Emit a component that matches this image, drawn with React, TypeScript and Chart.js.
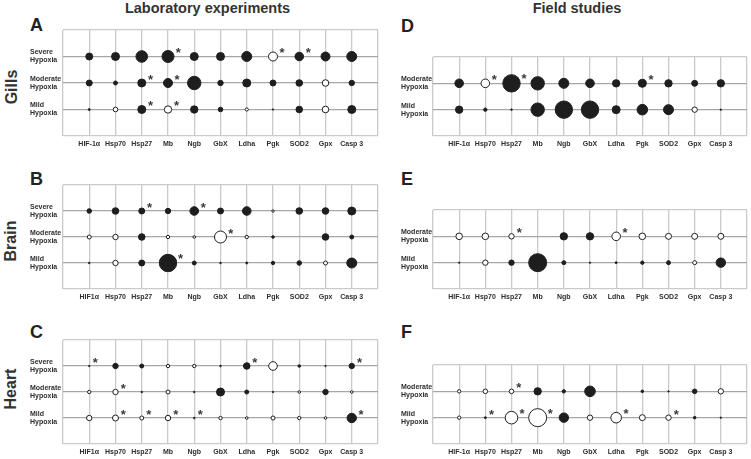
import React, { useEffect, useRef } from 'react';
import { Chart, registerables } from 'chart.js';

Chart.register(...registerables);

const FONT = '"Liberation Sans", Arial, Helvetica, sans-serif';
Chart.defaults.font.family = FONT;

// ---------- categories / tick labels ----------
const genesDash = ['HIF-1α', 'Hsp70', 'Hsp27', 'Mb', 'Ngb', 'GbX', 'Ldha', 'Pgk', 'SOD2', 'Gpx', 'Casp 3'];
const genesNoDash = ['HIF1α', 'Hsp70', 'Hsp27', 'Mb', 'Ngb', 'GbX', 'Ldha', 'Pgk', 'SOD2', 'Gpx', 'Casp 3'];
const labRows = ['Severe Hypoxia', 'Moderate Hypoxia', 'Mild Hypoxia'];
const fieldRows = ['Moderate Hypoxia', 'Mild Hypoxia'];

// ---------- series: signed effect sizes (|v| = bubble magnitude, v>0 up / filled, v<0 down / open) ----------
// A  Gills, laboratory
const gillsLabSevere = [3.5, 4, 5.8, 6, 4, 4, 5, -4.5, 4.3, 4.5, 5];
const gillsLabModerate = [3, 2, 4, 4.5, 6.7, 2.7, 4, 3, 3.3, -3.3, 2.7];
const gillsLabMild = [1, -2.3, 4, -3.7, 3.7, 2.3, -1.6, 0.7, 3.3, -3.3, 4];
const gillsLabSevereSig = ['Mb', 'Pgk', 'SOD2'];
const gillsLabModerateSig = ['Hsp27', 'Mb'];
const gillsLabMildSig = ['Hsp27', 'Mb'];

// B  Brain, laboratory
const brainLabSevere = [2.3, 3.3, 3, 2.7, 4.3, 3, 4.3, -1.2, 3.3, 3.3, 4];
const brainLabModerate = [-2, -2.7, 3.3, -1.7, -1.3, -6, -1.7, 1.3, 0, 3.3, 2];
const brainLabMild = [0.8, -2.7, 3, 8.7, 2, 0.8, 1, 1.7, 2.3, -2, 5];
const brainLabSevereSig = ['Hsp27', 'Ngb'];
const brainLabModerateSig = ['GbX'];
const brainLabMildSig = ['Mb'];

// C  Heart, laboratory
const heartLabSevere = [0.7, 2.7, 2, -1.7, -1.7, 0.8, 3.3, -4.3, 1.3, 0.7, 2.7];
const heartLabModerate = [-1.7, -2.7, 0.8, -2, 0.8, 4, 2, 0.7, -1.3, 2.7, -1.3];
const heartLabMild = [-2.7, -3, -2, -2.7, 0.8, -1.7, -1.3, -2, -1.7, -1.3, 4.7];
const heartLabSevereSig = ['HIF1α', 'Ldha', 'Casp 3'];
const heartLabModerateSig = ['Hsp70'];
const heartLabMildSig = ['Hsp70', 'Hsp27', 'Mb', 'Ngb', 'Casp 3'];

// D  Gills, field
const gillsFieldModerate = [4.3, -4.3, 8.7, 6.7, 5, 4.3, 3.7, 4, 3.7, 3, 3.7];
const gillsFieldMild = [3.7, 1.7, 0.8, 6.7, 8.7, 8.7, 4, 5.3, 5, -2.7, 0.7];
const gillsFieldModerateSig = ['Hsp70', 'Hsp27', 'Pgk'];
const gillsFieldMildSig: string[] = [];

// E  Brain, field
const brainFieldModerate = [-3.3, -3.3, -2.7, 0, 3.7, 3.7, -4.3, -3.3, -3, -3, -3];
const brainFieldMild = [0.7, -2.7, 2.7, 9, 2, 0.7, 1, 1.7, 2, -2, 4.7];
const brainFieldModerateSig = ['Hsp27', 'Ldha'];
const brainFieldMildSig: string[] = [];

// F  Heart, field
const heartFieldModerate = [-1.7, -2.3, -2.3, 3.7, 1.7, 5.3, 0, 1.3, 0.7, 2.3, -2.7];
const heartFieldMild = [-1.7, 1, -6.3, -9, 4.7, -2.7, -5.3, -3, -2.7, 1.3, 0.7];
const heartFieldModerateSig = ['Hsp27'];
const heartFieldMildSig = ['Hsp70', 'Hsp27', 'Mb', 'Ldha', 'SOD2'];

// ---------- styling ----------
const RADIUS_PER_UNIT = 1;
const INK = '#1e1e1e';
const TEXT = '#2e2e2e';
const ROW_LINE = '#a6a6a6';
const COL_LINE = '#cacaca';

type Row = { name: string; values: number[]; sig: string[] };

type PanelProps = {
  genes: string[];
  rows: Row[];
  left: number;
  top: number;
  width: number;
  height: number;
  yAxisWidth: number;
};

function Panel({ genes, rows, left, top, width, height, yAxisWidth }: PanelProps) {
  const ref = useRef<HTMLCanvasElement | null>(null);

  useEffect(() => {
    const canvas = ref.current;
    if (!canvas) return;
    const n = rows.length;
    const tickFont = { size: 7, weight: 'bold' as const, lineHeight: 1.15, family: FONT };

    const datasets = rows.map((row, i) => ({
      label: row.name,
      data: genes.map((_, j) => ({ x: j, y: n - i, r: Math.abs(row.values[j]) * RADIUS_PER_UNIT })),
      backgroundColor: row.values.map((v) => (v < 0 ? '#ffffff' : INK)),
      borderColor: INK,
      borderWidth: 1,
      hoverRadius: 0,
      hoverBorderWidth: 1,
    }));

    const sigPlugin = {
      id: 'sigStars',
      afterDatasetsDraw(chart: any) {
        const ctx = chart.ctx;
        ctx.save();
        const fs = 13;
        ctx.font = `bold ${fs}px ${FONT}`;
        ctx.fillStyle = '#3a3a3a';
        ctx.textAlign = 'center';
        ctx.textBaseline = 'alphabetic';
        rows.forEach((row, i) => {
          const meta = chart.getDatasetMeta(i);
          row.sig.forEach((g) => {
            const j = genes.indexOf(g);
            if (j < 0) return;
            const el = meta.data[j];
            const r = Math.abs(row.values[j]) * RADIUS_PER_UNIT;
            const cx = el.x + 5.5 + 0.8 * r;
            const cy = el.y - (6 + 0.15 * r);
            ctx.fillText('*', cx, cy + 0.57 * fs);
          });
        });
        ctx.restore();
      },
    };

    const chart = new Chart(canvas, {
      type: 'bubble',
      data: { datasets },
      options: {
        responsive: false,
        animation: false,
        events: [],
        layout: { autoPadding: false, padding: { left: 0, top: 2, right: 2, bottom: 0 } },
        plugins: { legend: { display: false }, tooltip: { enabled: false } },
        scales: {
          x: {
            type: 'linear',
            min: -1,
            max: genes.length,
            grid: { color: COL_LINE, lineWidth: 1.3, drawTicks: false },
            border: { display: false },
            ticks: {
              stepSize: 1,
              autoSkip: false,
              maxRotation: 0,
              minRotation: 0,
              padding: 4,
              color: TEXT,
              font: tickFont,
              callback: (v: any) => (genes[Number(v)] !== undefined ? genes[Number(v)] : ''),
            },
            afterFit: (s: any) => {
              s.height = 16;
              s.paddingLeft = 0;
              s.paddingRight = 0;
            },
          },
          y: {
            type: 'linear',
            min: 0,
            max: n + 1,
            grid: {
              color: (c: any) => (c.tick && (c.tick.value === 0 || c.tick.value === n + 1) ? COL_LINE : ROW_LINE),
              lineWidth: 1.2,
              drawTicks: false,
            },
            border: { display: false },
            ticks: {
              stepSize: 1,
              crossAlign: 'far',
              padding: 0,
              color: TEXT,
              font: tickFont,
              callback: (v: any) => {
                const idx = n - Number(v);
                if (idx < 0 || idx >= n) return '';
                return rows[idx].name.split(' ');
              },
            },
            afterFit: (s: any) => {
              s.width = yAxisWidth;
              s.paddingTop = 0;
              s.paddingBottom = 0;
            },
          },
        },
      },
      plugins: [sigPlugin],
    } as any);

    return () => chart.destroy();
  }, []);

  return (
    <canvas
      ref={ref}
      width={width}
      height={height}
      style={{ position: 'absolute', left, top, width, height }}
    />
  );
}

function Label({ text, left, top, size }: { text: string; left: number; top: number; size: number }) {
  return (
    <div
      style={{
        position: 'absolute',
        left,
        top,
        fontSize: size,
        lineHeight: `${size}px`,
        fontWeight: 'bold',
        color: '#222',
        whiteSpace: 'nowrap',
      }}
    >
      {text}
    </div>
  );
}

function CenterLabel({ text, cx, top, size }: { text: string; cx: number; top: number; size: number }) {
  return (
    <div
      style={{
        position: 'absolute',
        left: cx,
        top,
        transform: 'translateX(-50%)',
        fontSize: size,
        lineHeight: `${size}px`,
        fontWeight: 'bold',
        color: '#333',
        whiteSpace: 'nowrap',
      }}
    >
      {text}
    </div>
  );
}

function Organ({ text, cx, cy }: { text: string; cx: number; cy: number }) {
  return (
    <div
      style={{
        position: 'absolute',
        left: cx,
        top: cy,
        transform: 'translate(-50%, -50%) rotate(-90deg)',
        fontSize: 16,
        lineHeight: '16px',
        fontWeight: 'bold',
        color: '#333',
        whiteSpace: 'nowrap',
      }}
    >
      {text}
    </div>
  );
}

export default function App() {
  const A: Row[] = [
    { name: labRows[0], values: gillsLabSevere, sig: gillsLabSevereSig },
    { name: labRows[1], values: gillsLabModerate, sig: gillsLabModerateSig },
    { name: labRows[2], values: gillsLabMild, sig: gillsLabMildSig },
  ];
  const B: Row[] = [
    { name: labRows[0], values: brainLabSevere, sig: brainLabSevereSig },
    { name: labRows[1], values: brainLabModerate, sig: brainLabModerateSig },
    { name: labRows[2], values: brainLabMild, sig: brainLabMildSig },
  ];
  const C: Row[] = [
    { name: labRows[0], values: heartLabSevere, sig: heartLabSevereSig },
    { name: labRows[1], values: heartLabModerate, sig: heartLabModerateSig },
    { name: labRows[2], values: heartLabMild, sig: heartLabMildSig },
  ];
  const D: Row[] = [
    { name: fieldRows[0], values: gillsFieldModerate, sig: gillsFieldModerateSig },
    { name: fieldRows[1], values: gillsFieldMild, sig: gillsFieldMildSig },
  ];
  const E: Row[] = [
    { name: fieldRows[0], values: brainFieldModerate, sig: brainFieldModerateSig },
    { name: fieldRows[1], values: brainFieldMild, sig: brainFieldMildSig },
  ];
  const F: Row[] = [
    { name: fieldRows[0], values: heartFieldModerate, sig: heartFieldModerateSig },
    { name: fieldRows[1], values: heartFieldMild, sig: heartFieldMildSig },
  ];

  return (
    <div
      style={{
        position: 'absolute',
        left: 0,
        top: 0,
        width: 751,
        height: 459,
        background: '#fff',
        overflow: 'hidden',
        fontFamily: FONT,
      }}
    >
      <CenterLabel text="Laboratory experiments" cx={207.5} top={1} size={14.5} />
      <CenterLabel text="Field studies" cx={577} top={0.5} size={14.5} />

      <Label text="A" left={30} top={16} size={18} />
      <Label text="B" left={30} top={170} size={18} />
      <Label text="C" left={30} top={323} size={18} />
      <Label text="D" left={401} top={17} size={18} />
      <Label text="E" left={401} top={170} size={18} />
      <Label text="F" left={401} top={323} size={18} />

      <Organ text="Gills" cx={12} cy={87} />
      <Organ text="Brain" cx={11} cy={241} />
      <Organ text="Heart" cx={11} cy={389} />

      <Panel genes={genesDash} rows={A} left={30} top={28} width={350} height={124} yAxisWidth={33} />
      <Panel genes={genesNoDash} rows={B} left={30} top={183} width={350} height={122} yAxisWidth={33} />
      <Panel genes={genesNoDash} rows={C} left={30} top={338} width={350} height={122} yAxisWidth={33} />
      <Panel genes={genesDash} rows={D} left={401} top={55} width={348} height={97} yAxisWidth={32} />
      <Panel genes={genesDash} rows={E} left={401} top={208} width={348} height={97} yAxisWidth={32} />
      <Panel genes={genesDash} rows={F} left={401} top={363} width={348} height={97} yAxisWidth={32} />
    </div>
  );
}
